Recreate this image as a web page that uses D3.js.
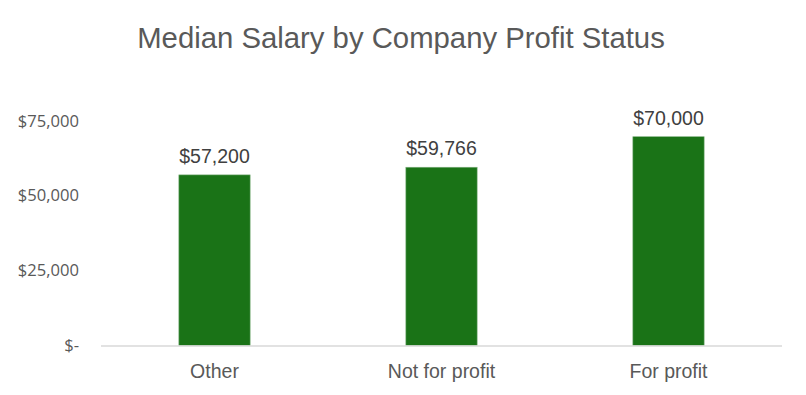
<!DOCTYPE html>
<html>
<head>
<meta charset="utf-8">
<script src="https://cdn.jsdelivr.net/npm/d3@7"></script>
<style>
  body { margin: 0; background: #fff; }
  svg { display: block; }
</style>
</head>
<body>
<div id="chart"></div>
<script>
var categories = ['Other', 'Not for profit', 'For profit'];
var salaries = [57200, 59766, 70000];
var yTicks = [0, 25000, 50000, 75000];

var width = 806, height = 395;
var margin = {top: 0, left: 101, right: 24};

var svg = d3.select('#chart').append('svg')
  .attr('width', width)
  .attr('height', height);

var x = d3.scaleBand()
  .domain(categories)
  .range([margin.left, width - margin.right])
  .paddingInner(0.686)
  .paddingOuter(0.343);

var y = d3.scaleLinear()
  .domain([0, 75000])
  .range([345.5, 121.8]);

// title
svg.append('text')
  .attr('x', 401)
  .attr('y', 48)
  .attr('text-anchor', 'middle')
  .style('font-family', 'Liberation Sans, Arial, sans-serif')
  .style('font-size', '29.3px')
  .style('fill', '#595959')
  .text('Median Salary by Company Profit Status');

// y tick labels
var fmt = function(v) { return v === 0 ? '$-' : '$' + d3.format(',')(v); };
svg.selectAll('.ytick').data(yTicks)
  .enter().append('text')
  .attr('class', 'ytick')
  .attr('x', 79)
  .attr('y', function(d) { return y(d) + 5; })
  .attr('text-anchor', 'end')
  .style('font-family', 'Open Sans, sans-serif')
  .style('font-size', '16.6px')
  .style('fill', '#595959')
  .text(fmt);

// bars
svg.selectAll('rect.bar').data(salaries)
  .enter().append('rect')
  .attr('class', 'bar')
  .attr('x', function(d, i) { return x(categories[i]); })
  .attr('y', function(d) { return y(d); })
  .attr('width', x.bandwidth())
  .attr('height', function(d) { return y(0) - y(d); })
  .style('fill', '#1a7317')
  .style('stroke', '#7fb07d')
  .style('stroke-width', 0.6);

// baseline
svg.append('line')
  .attr('x1', margin.left)
  .attr('x2', width - margin.right)
  .attr('y1', y(0) + 0.5)
  .attr('y2', y(0) + 0.5)
  .style('stroke', '#d9d9d9')
  .style('stroke-width', 1.5);

// data labels
svg.selectAll('.dlabel').data(salaries)
  .enter().append('text')
  .attr('class', 'dlabel')
  .attr('x', function(d, i) { return x(categories[i]) + x.bandwidth() / 2; })
  .attr('y', function(d) { return y(d) - 12; })
  .attr('text-anchor', 'middle')
  .style('font-family', 'Liberation Sans, Arial, sans-serif')
  .style('font-size', '19.5px')
  .style('fill', '#404040')
  .text(function(d) { return '$' + d3.format(',')(d); });

// category labels
svg.selectAll('.xlabel').data(categories)
  .enter().append('text')
  .attr('class', 'xlabel')
  .attr('x', function(d) { return x(d) + x.bandwidth() / 2; })
  .attr('y', 378)
  .attr('text-anchor', 'middle')
  .style('font-family', 'Liberation Sans, Arial, sans-serif')
  .style('font-size', '19.5px')
  .style('fill', '#595959')
  .text(function(d) { return d; });
</script>
</body>
</html>
